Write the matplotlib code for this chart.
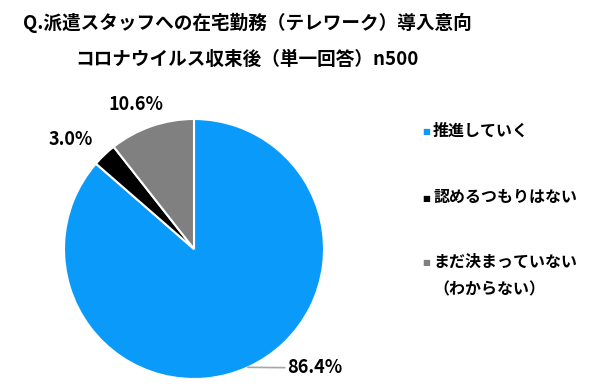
import matplotlib.pyplot as plt
import numpy as np

plt.rcParams["font.family"] = ["Noto Sans CJK JP", "DejaVu Sans"]

labels = ["推進していく", "認めるつもりはない", "まだ決まっていない\n（わからない）"]
values = [86.4, 3.0, 10.6]
colors = ["#0A9BFA", "#000000", "#808080"]
title = "Q.派遣スタッフへの在宅勤務（テレワーク）導入意向\nコロナウイルス収束後（単一回答）n500"

fig = plt.figure(figsize=(5.95, 3.87), dpi=100, facecolor="white")
ax = fig.add_axes([64 / 595, 8 / 387, 260 / 595, 260 / 387])

wedges, _ = ax.pie(values, colors=colors, startangle=90, counterclock=False,
                   radius=1.0, wedgeprops=dict(edgecolor="white", linewidth=1.5))
ax.set_xlim(-1, 1)
ax.set_ylim(-1, 1)
ax.set_aspect("equal")

# label placement per slice (data coords)
label_pos = [(0.72, -0.915), (-0.95, 0.84), (-0.45, 1.11)]
for w, v, (lx, ly), i in zip(wedges, values, label_pos, range(3)):
    mid = np.deg2rad((w.theta1 + w.theta2) / 2)
    if i == 0:
        ax.annotate(f"{v:.1f}%", xy=(np.cos(mid), np.sin(mid)), xytext=(lx, ly),
                    ha="left", va="center", fontsize=13, fontweight="bold",
                    arrowprops=dict(arrowstyle="-", color="#A6A6A6", lw=1.2,
                                    shrinkA=0, shrinkB=0),
                    annotation_clip=False)
    else:
        ax.text(lx, ly, f"{v:.1f}%", ha="center", va="center", fontsize=13,
                fontweight="bold", clip_on=False)

fig.text(247 / 595, 1 - 41 / 387, title, ha="center", va="center", fontsize=13.4,
         fontweight="bold", linespacing=2.1)

# legend
leg_y = [132, 198, 263]
for lab, c, y in zip(labels, colors, leg_y):
    fig.text(422 / 595, 1 - y / 387, "■", color=c, fontsize=6, ha="left", va="center",
             family=["DejaVu Sans"])
    fig.text(433 / 595, 1 - (y - 9) / 387, lab, fontsize=11.5, fontweight="bold",
             ha="left", va="top", linespacing=1.85)

fig.savefig("out.png", dpi=100, facecolor="white")
